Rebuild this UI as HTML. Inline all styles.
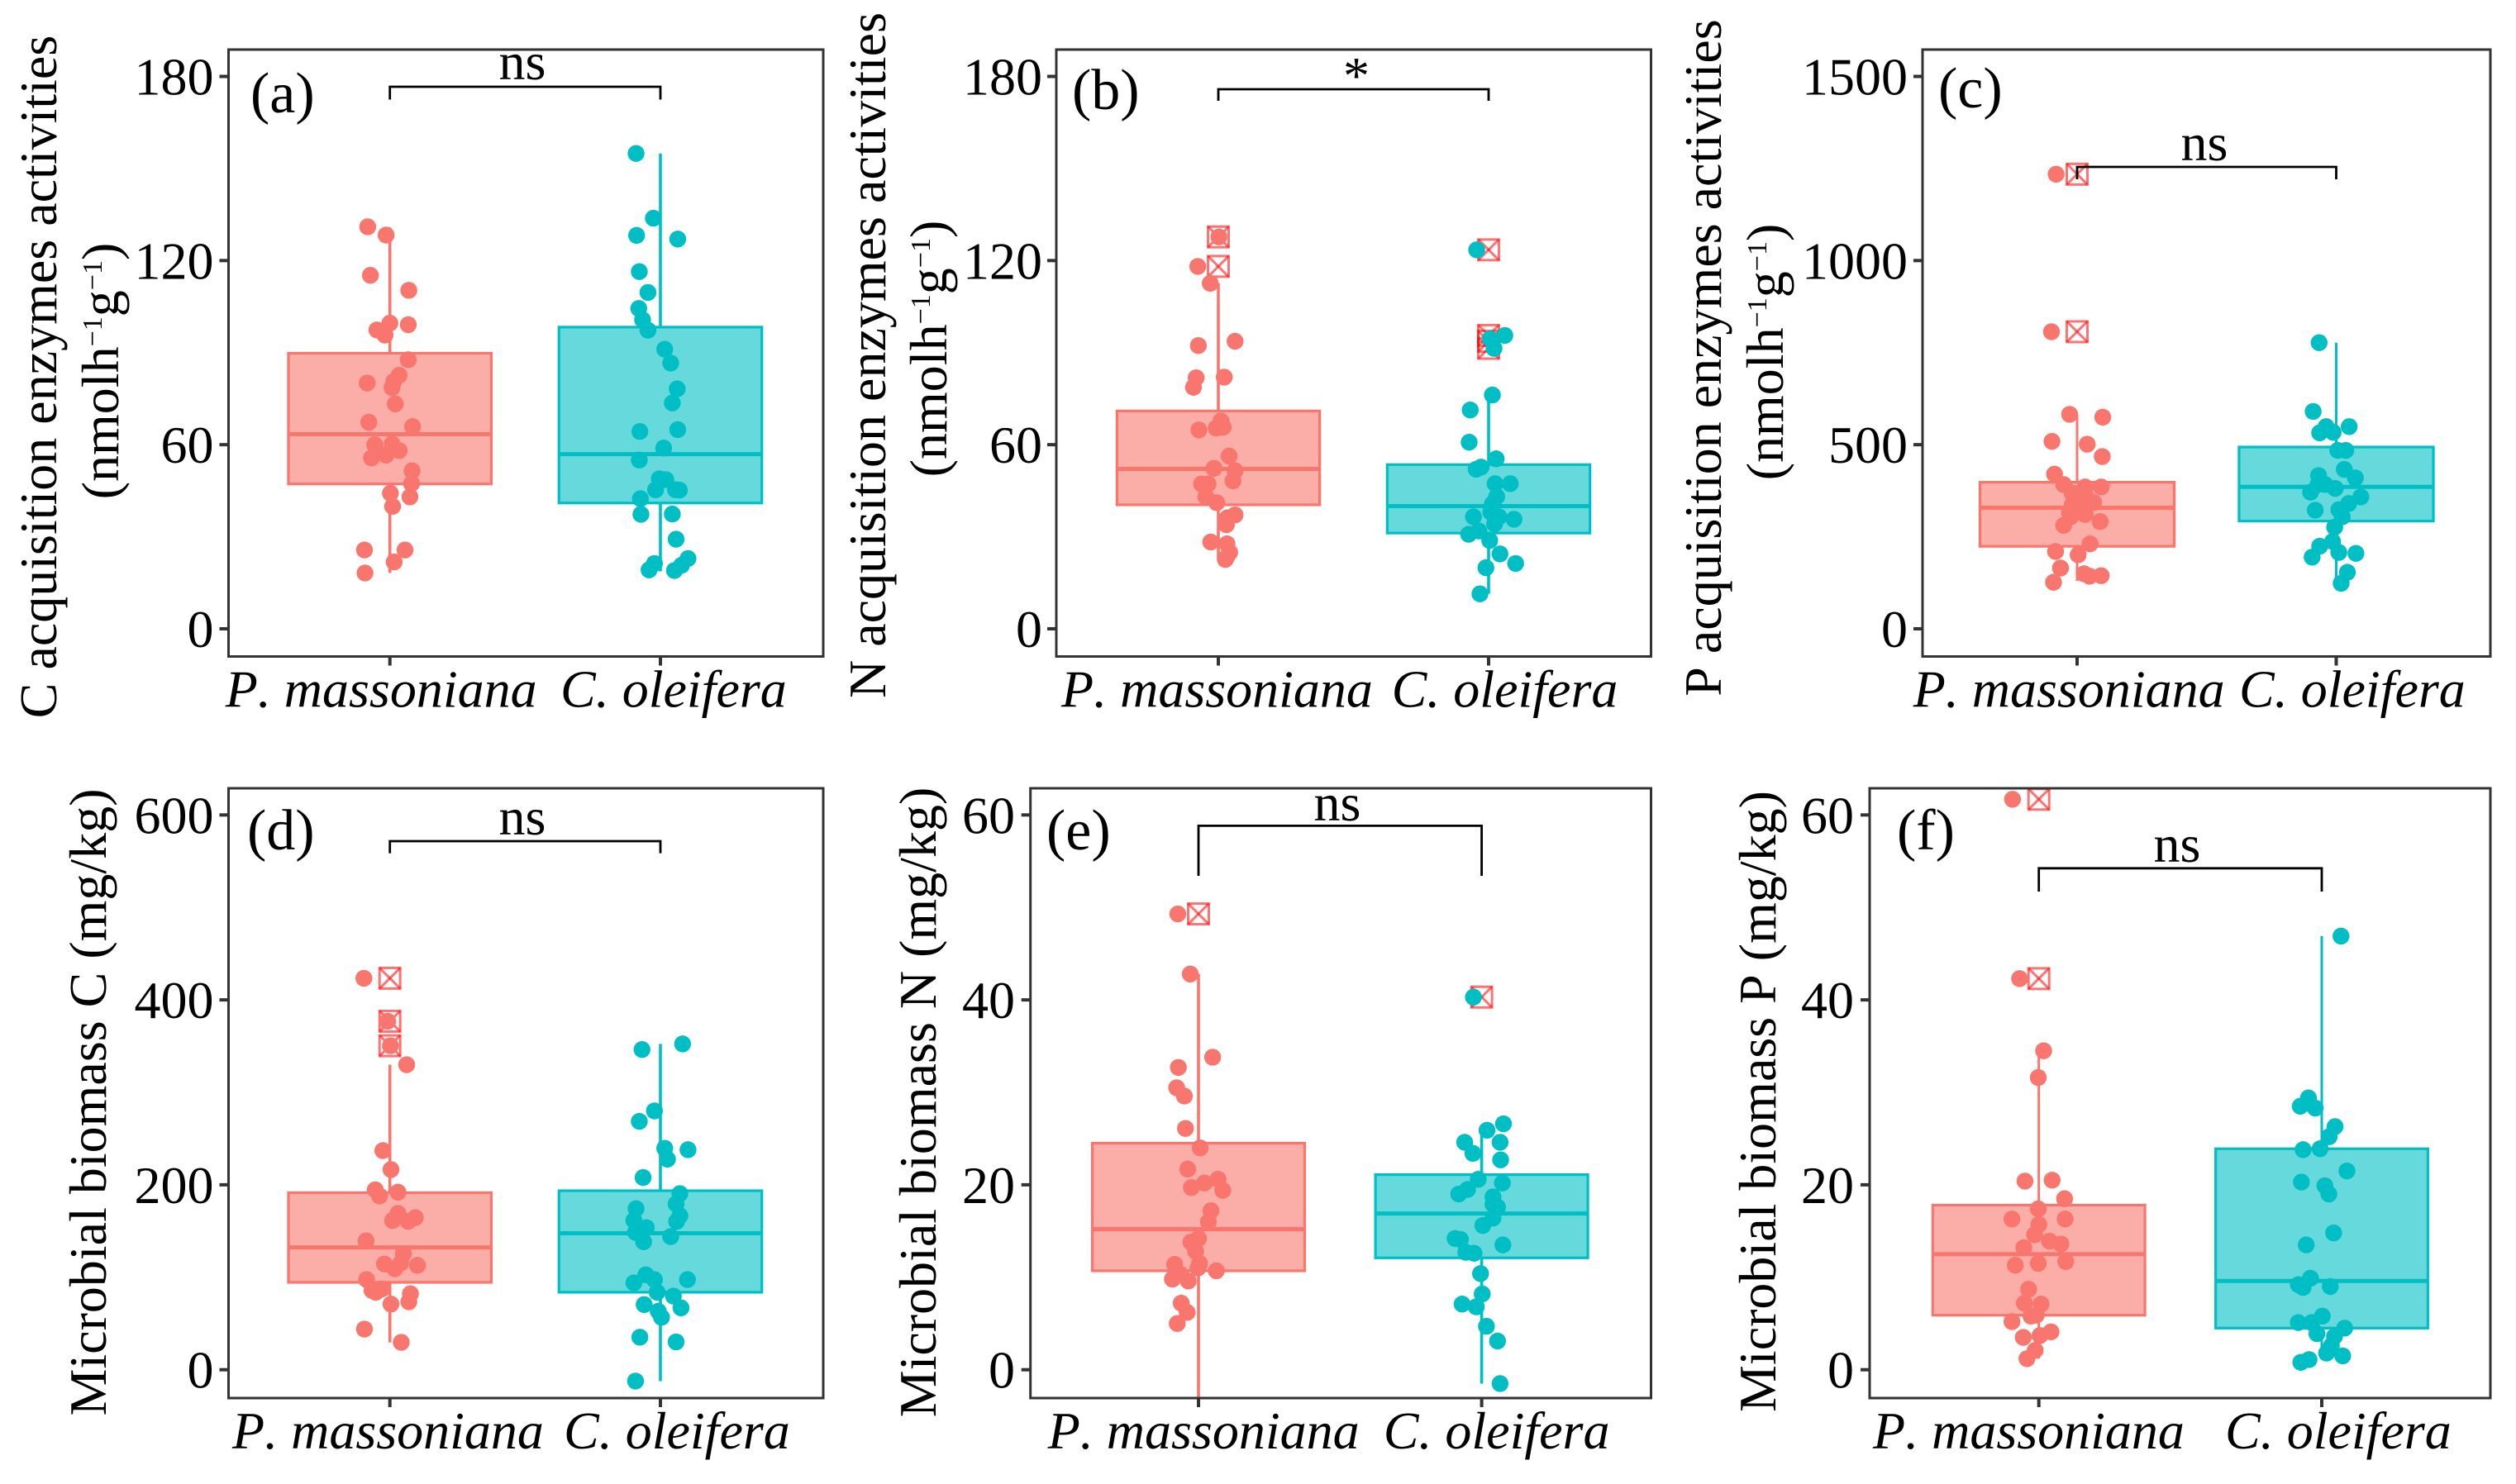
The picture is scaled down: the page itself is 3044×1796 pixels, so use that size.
<!DOCTYPE html>
<html lang="en">
<head>
<meta charset="utf-8">
<title>Enzyme activities and microbial biomass box plots</title>
<style>
html,body{margin:0;padding:0;background:#fff;}
svg{display:block;}
text{font-family:"Liberation Serif",serif;fill:#000;font-kerning:none;}
.t{font-size:64px;}
.sup{font-size:34px;}
.pl{font-size:70px;}
</style>
</head>
<body>
<svg id="figure" xmlns="http://www.w3.org/2000/svg" width="3044" height="1796" viewBox="0 0 3044 1796">
<rect x="0" y="0" width="3044" height="1796" fill="#fff"/>
<g id="marks"></g>
<g>
<text class="t" transform="translate(68,456) rotate(-90)" text-anchor="middle">C acquisition enzymes activities</text>
<text class="t" transform="translate(143,449) rotate(-90)" text-anchor="middle">(nmolh<tspan class="sup" dy="-20">−1</tspan><tspan dy="20">g</tspan><tspan class="sup" dy="-20">−1</tspan><tspan dy="20">)</tspan></text>
<text class="t" transform="translate(1071,430) rotate(-90)" text-anchor="middle">N acquisition enzymes activities</text>
<text class="t" transform="translate(1145,422) rotate(-90)" text-anchor="middle">(nmolh<tspan class="sup" dy="-20">−1</tspan><tspan dy="20">g</tspan><tspan class="sup" dy="-20">−1</tspan><tspan dy="20">)</tspan></text>
<text class="t" transform="translate(2082,433) rotate(-90)" text-anchor="middle">P acquisition enzymes activities</text>
<text class="t" transform="translate(2157,426) rotate(-90)" text-anchor="middle">(nmolh<tspan class="sup" dy="-20">−1</tspan><tspan dy="20">g</tspan><tspan class="sup" dy="-20">−1</tspan><tspan dy="20">)</tspan></text>
<text class="t" transform="translate(128,1334) rotate(-90)" text-anchor="middle">Microbial biomass C (mg/kg)</text>
<text class="t" transform="translate(1132,1334) rotate(-90)" text-anchor="middle">Microbial biomass N (mg/kg)</text>
<text class="t" transform="translate(2148,1333) rotate(-90)" text-anchor="middle">Microbial biomass P (mg/kg)</text>
<text class="pl" x="303" y="136">(a)</text>
<text class="pl" x="1297" y="132">(b)</text>
<text class="pl" x="2345" y="130">(c)</text>
<text class="pl" x="299" y="1028">(d)</text>
<text class="pl" x="1266" y="1028">(e)</text>
<text class="pl" x="2295" y="1028">(f)</text>
<text class="t" x="632" y="96" text-anchor="middle">ns</text>
<text class="t" x="1641" y="113" text-anchor="middle">*</text>
<text class="t" x="2667" y="194" text-anchor="middle">ns</text>
<text class="t" x="632" y="1010" text-anchor="middle">ns</text>
<text class="t" x="1618" y="993" text-anchor="middle">ns</text>
<text class="t" x="2634" y="1043" text-anchor="middle">ns</text>
</g>
</svg>
<script>
const categories = ['P. massoniana', 'C. oleifera'];

const aTicks = [0, 60, 120, 180];
const aPValues = [131.0,128.3,115.2,110.3,99.6,99.1,97.4,95.7,87.7,82.6,80.6,78.6,80.1,73.3,67.3,65.9,60,60.2,58.1,56.6,55.7,51.5,47.3,43,44.2,39.9,25.7,25.7,21.8,18.2];
const aPJitter = [-.082,-.014,-.072,.07,0,.068,-.048,-.018,.068,.034,.014,.008,-.084,.02,-.078,.084,-.056,.008,.034,-.014,-.068,.082,.08,.074,.002,.01,-.094,.056,.016,-.092];
const aCValues = [154.9,133.8,128.2,127,116.4,109.6,104.4,100.7,97.3,91.1,86.6,78.2,73.6,64.3,64.9,58.9,55,48.9,48.6,45.3,45.3,45.2,42.4,37.3,37.4,29.2,22.9,21.3,19.2,19,20.7];
const aCJitter = [-.09,-.026,-.088,.064,-.078,-.046,-.08,-.066,-.046,.016,.038,.062,.044,-.076,.064,.012,-.078,-.004,.02,-.018,.056,.07,-.074,-.072,.044,.058,.102,-.022,-.042,.052,.078];
const aPBox = [18.2,47.2,63.4,89.8,130.8];
const aCBox = [18.7,41,56.9,98.3,154.9];
const aPOutliers = [];
const aCOutliers = [];

const bTicks = [0, 60, 120, 180];
const bPValues = [127.7,118.1,112.6,92.3,93.7,81.8,78.7,82,67.7,64.8,65.4,65.7,56.3,52.3,51.5,48.2,47.2,47.2,43,41.1,37.1,36.2,33.9,28.3,27.7,24.9,22.6,23.2];
const bPJitter = [.002,-.076,-.03,-.074,.062,-.082,-.092,.022,.01,-.072,-.008,.018,.04,-.016,.062,.054,-.062,-.038,-.046,-.006,.062,.034,.03,-.028,.032,.042,.026,.03];
const bCValues = [123.5,95.6,94.5,91.4,76.2,71.3,60.8,55.4,52.7,52,47.3,47.3,43.1,40.7,38,36.5,36.5,35.7,34.2,31.9,30.8,28.8,24.4,21.3,19.9,11.4];
const bCJitter = [-.044,.06,.006,.02,.014,-.068,-.072,.028,-.028,-.046,.08,.024,.03,.014,.008,-.056,.038,.094,.022,-.036,-.074,.004,.042,.1,-.01,-.032];
const bPBox = [22.6,40.4,52.1,71,112.6];
const bCBox = [11.4,31.2,40,53.5,76.2];
const bPOutliers = [127.7,118.1];
const bCOutliers = [123.5,95.6,93.7,91.4];

const cTicks = [0, 500, 1000, 1500];
const cPValues = [1234.5,806.7,582.5,574.7,509,501.3,467.8,420,391.8,385.3,385.3,368.6,355.7,342.8,336.3,329.9,314.4,310.6,291.2,280.9,304,230.7,210,201,165,149.5,143,144.3,126.3];
const cPJitter = [-.081,-.099,-.029,.099,-.097,.039,.097,-.087,-.052,.031,.093,-.019,.037,.064,-.019,-.004,-.029,.031,.089,-.052,-.025,.05,-.083,.004,-.064,.027,.048,.093,-.091];
const cCValues = [777,590.2,549,549,532.2,533.5,484.5,484.5,433,416.2,409.8,381.4,391.8,371.1,391.8,358.2,340.2,323.5,322.2,304.1,275.8,237.1,224.2,207.5,204.9,194.6,153.4,123.7];
const cCJitter = [-.066,-.089,.05,-.039,-.064,-.012,.006,.037,.031,-.068,.074,-.004,-.07,-.099,-.043,.095,.048,.01,-.081,.023,-.006,-.014,-.064,.01,.076,-.093,.043,.019];
const cPBox = [130,224,328.6,398,582.5];
const cCBox = [123.7,292.5,385.3,493.6,777];
const cPOutliers = [1234.5,806.7];
const cCOutliers = [];

const dTicks = [0, 200, 400, 600];
const dPValues = [423.4,376.9,350.4,329.9,237,216.5,194.6,187.9,192,169,164.5,161.4,160.4,139.4,125.6,114.4,115.4,112.9,109.3,97.5,85.8,87.3,83.8,82.2,73.5,71,43.9,29.6];
const dPJitter = [-.096,-.008,.002,.062,-.026,.004,-.054,-.038,.03,.03,.094,.01,.068,-.088,.05,-.02,.04,.102,.018,-.086,-.066,-.03,-.052,.076,.07,.004,-.094,.042];
const dCValues = [346.3,352.4,279.9,268.6,239.5,238,227.8,207.9,190.5,179.3,174.2,166.5,160.4,161.4,153.7,148.6,144,138.4,102.7,97.5,94,97.5,83.8,79.7,70.5,63.3,66.9,56.7,35.2,30.1,-12.3];
const dCJitter = [-.068,.082,-.022,-.078,.016,.102,.026,-.064,.072,.058,-.09,.072,.06,-.098,-.052,-.092,.038,-.062,-.054,-.022,-.098,.1,-.012,.048,-.06,-.008,.076,.004,-.076,.058,-.092];
const dPBox = [29.6,94.5,132.3,191.5,329.9];
const dCBox = [-12.3,83.8,147.6,193.6,352.4];
const dPOutliers = [423.4,376.9,350.4];
const dCOutliers = [];

const eTicks = [0, 20, 40, 60];
const ePValues = [49.3,42.8,33.8,32.7,30.5,29.6,26.1,24,21.7,20.6,20.2,19.7,19.4,17.2,16,14.2,13.8,12.8,11.4,11.5,11,10.7,10.3,9.8,9.6,7.2,6.2,5];
const ePJitter = [-.073,-.029,.05,-.071,-.077,-.05,-.046,.006,-.038,.069,.021,-.025,.086,.044,.035,0,-.027,-.01,-.084,.004,-.002,.063,-.063,-.092,-.036,-.061,-.04,-.075];
const eCValues = [40.3,26.6,25.9,24.6,24.6,23.4,22.7,20.6,20.2,19.5,19,18.7,17.9,17.6,16.4,15.6,14.2,14.1,13.5,12.7,12.6,10.4,8.2,7.1,6.8,4.7,3.1,-1.5];
const eCJitter = [-.029,.077,.019,.065,-.06,-.031,.067,-.012,.073,-.05,-.081,.04,.04,.056,.04,.004,-.094,-.075,.075,-.056,-.027,-.004,.002,-.069,-.019,.017,.056,.065];
const ePBox = [-3.1,10.7,15.2,24.5,42.8];
const eCBox = [-1.5,12.1,16.9,21.1,25.6];
const ePOutliers = [49.3];
const eCOutliers = [40.3];

const fTicks = [0, 20, 40, 60];
const fPValues = [61.7,42.3,34.5,31.6,20.4,20.5,18.5,17.4,16.3,16.3,15.7,14.6,13.2,13.9,13.6,11.3,11.5,11.7,8.7,7.2,7.1,5.8,5.9,5.2,3.5,4.1,3.7,2.1,1.2];
const fPJitter = [-.093,-.068,.017,-.002,-.049,.047,.091,-.002,-.095,.093,0,-.015,-.053,.038,.078,-.083,-.002,.095,-.036,-.051,.008,-.028,-.009,-.095,-.055,.043,.004,-.013,-.042];
const fCValues = [46.9,29.4,28.5,28.3,26.3,25.2,23.8,23.9,21.5,20.3,19.9,19,14.8,13.5,9.9,9.2,8.9,9,5.8,5.1,5.1,4.5,3.9,3.6,2.6,1.8,1.5,1.1,.8];
const fCJitter = [.068,-.047,-.076,-.023,.047,.026,-.066,-.006,.089,-.072,.011,.025,.042,-.055,-.04,-.083,-.066,.03,.002,-.083,-.036,.081,-.017,.045,.034,.017,.074,-.045,-.074];
const fPBox = [1.2,5.9,12.5,17.8,34.5];
const fCBox = [1.1,4.5,9.6,23.9,46.9];
const fPOutliers = [61.7,42.3];
const fCOutliers = [];

const SVGNS = 'http://www.w3.org/2000/svg';
const seriesColors = ['#F8766D', '#00BFC4'];
const outlierColor = '#FF0000';
const frameColor = '#333333';
const topRow = {top: 60, bottom: 794.5, zero: 761, tickTop: 92.5};
const bottomRow = {top: 954, bottom: 1692, zero: 1657.7, tickTop: 986.3};

function make(parent, tag, attrs, text) {
  const node = document.createElementNS(SVGNS, tag);
  Object.keys(attrs).forEach(function (k) { node.setAttribute(k, attrs[k]); });
  if (text !== undefined) node.textContent = text;
  parent.appendChild(node);
  return node;
}

function drawPanel(p) {
  const root = document.getElementById('marks');
  const g = make(root, 'g', {});
  
  

  const maxTick = p.ticks[p.ticks.length - 1];
  const yAxis = function (v) { return p.row.zero - v * (p.row.zero - p.row.tickTop) / maxTick; };
  const step = p.xCats[1] - p.xCats[0];
  const xAxis = function (i, jitter) { return p.xCats[i] + jitter * step; };

  [0, 1].forEach(function (i) {
    const box = p.boxes[i];
    const color = seriesColors[i];
    const cx = xAxis(i, 0);
    const half = 0.375 * step;

    const upper = make(g, 'line', {x1: cx, x2: cx, y1: yAxis(box[3]), y2: yAxis(box[4]), stroke: color, 'stroke-width': p.whisker});
    
    

    const lower = make(g, 'line', {x1: cx, x2: cx, y1: yAxis(box[1]), y2: yAxis(box[0]), stroke: color, 'stroke-width': p.whisker});
    
    

    const rect = make(g, 'rect', {x: cx - half, y: yAxis(box[3]), width: 2 * half, height: yAxis(box[1]) - yAxis(box[3]), fill: color, 'fill-opacity': 0.6, stroke: color, 'stroke-width': 3.2});
    
    

    const median = make(g, 'line', {x1: cx - half, x2: cx + half, y1: yAxis(box[2]), y2: yAxis(box[2]), stroke: color, 'stroke-width': 5});
    
    

    p.outliers[i].forEach(function (v) {
      const y = yAxis(v);
      const s = 12.5;
      const square = make(g, 'rect', {x: cx - s, y: y - s, width: 2 * s, height: 2 * s, fill: 'none', stroke: outlierColor, 'stroke-opacity': 0.55, 'stroke-width': 3});
      
      
      const diagA = make(g, 'line', {x1: cx - s, y1: y - s, x2: cx + s, y2: y + s, stroke: outlierColor, 'stroke-opacity': 0.55, 'stroke-width': 3});
      
      
      const diagB = make(g, 'line', {x1: cx + s, y1: y - s, x2: cx - s, y2: y + s, stroke: outlierColor, 'stroke-opacity': 0.55, 'stroke-width': 3});
      
      
    });

    p.values[i].forEach(function (v, k) {
      const c = make(g, 'circle', {cx: xAxis(i, p.jitter[i][k]), cy: yAxis(v), r: 10.2, fill: color});
      
      
    });
  });

  const frame = make(g, 'rect', {x: p.frame[0], y: p.row.top, width: p.frame[1] - p.frame[0], height: p.row.bottom - p.row.top, fill: 'none', stroke: frameColor, 'stroke-width': 3});
  
  

  p.ticks.forEach(function (v) {
    const tick = make(g, 'line', {x1: p.frame[0] - 11, x2: p.frame[0], y1: yAxis(v), y2: yAxis(v), stroke: frameColor, 'stroke-width': 4});
    
    
    const label = make(g, 'text', {x: p.tickX + 1, y: yAxis(v) + 22, 'text-anchor': 'end', 'font-size': 64}, String(v));
    
    
  });

  categories.forEach(function (name, i) {
    const tick = make(g, 'line', {x1: xAxis(i, 0), x2: xAxis(i, 0), y1: p.row.bottom, y2: p.row.bottom + 11, stroke: frameColor, 'stroke-width': 4});
    
    
    const label = make(g, 'text', {x: p.labelX[i], y: p.row.bottom + 61, 'font-size': 64, 'font-style': 'italic'}, name);
    
    
  });

  const b = p.bracket;
  const bracket = make(g, 'path', {d: 'M' + xAxis(0, 0) + ' ' + b[1] + 'V' + b[0] + 'H' + xAxis(1, 0) + 'V' + b[1], fill: 'none', stroke: '#000', 'stroke-width': 2.8});
  
  
}

drawPanel({id: 'a', whisker: 3.6, row: topRow, frame: [276.5, 996], xCats: [471.7, 799], tickX: 257.5, labelX: [272.7, 678], bracket: [105, 120.5], ticks: aTicks, values: [aPValues, aCValues], jitter: [aPJitter, aCJitter], boxes: [aPBox, aCBox], outliers: [aPOutliers, aCOutliers]});
drawPanel({id: 'b', whisker: 3.6, row: topRow, frame: [1278, 1997.5], xCats: [1474, 1801], tickX: 1260, labelX: [1284, 1683.6], bracket: [108, 122], ticks: bTicks, values: [bPValues, bCValues], jitter: [bPJitter, bCJitter], boxes: [bPBox, bCBox], outliers: [bPOutliers, bCOutliers]});
drawPanel({id: 'c', whisker: 3, row: topRow, frame: [2326, 3013], xCats: [2513, 2826.5], tickX: 2307, labelX: [2314.7, 2709], bracket: [202, 217], ticks: cTicks, values: [cPValues, cCValues], jitter: [cPJitter, cCJitter], boxes: [cPBox, cCBox], outliers: [cPOutliers, cCOutliers]});
drawPanel({id: 'd', whisker: 3.6, row: bottomRow, frame: [276.5, 996], xCats: [471.7, 799], tickX: 257.5, labelX: [281, 682], bracket: [1018, 1032.6], ticks: dTicks, values: [dPValues, dCValues], jitter: [dPJitter, dCJitter], boxes: [dPBox, dCBox], outliers: [dPOutliers, dCOutliers]});
drawPanel({id: 'e', whisker: 3.6, row: bottomRow, frame: [1246.7, 1997.5], xCats: [1450, 1792.6], tickX: 1227, labelX: [1267.7, 1673.7], bracket: [999.4, 1060], ticks: eTicks, values: [ePValues, eCValues], jitter: [ePJitter, eCJitter], boxes: [ePBox, eCBox], outliers: [ePOutliers, eCOutliers]});
drawPanel({id: 'f', whisker: 3, row: bottomRow, frame: [2262, 3013], xCats: [2466.7, 2809], tickX: 2242, labelX: [2266, 2692], bracket: [1050.8, 1079], ticks: fTicks, values: [fPValues, fCValues], jitter: [fPJitter, fCJitter], boxes: [fPBox, fCBox], outliers: [fPOutliers, fCOutliers]});
</script>
</body>
</html>
